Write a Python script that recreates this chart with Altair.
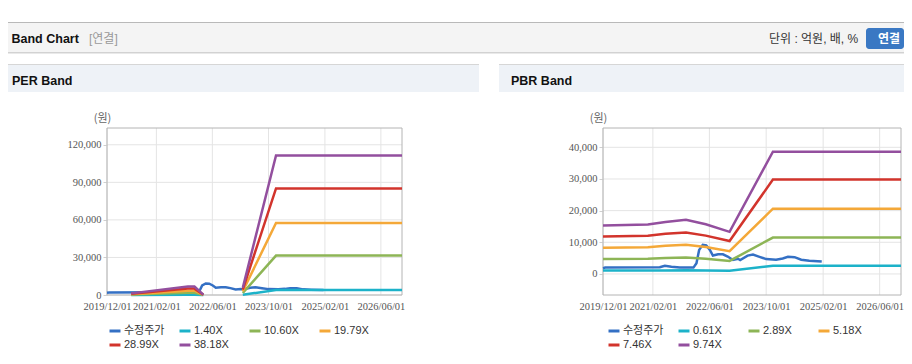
import altair as alt
import pandas as pd

# ---------------- data ----------------
X_START = "2019-12-01"
X_END = "2026-12-01"
x_tick_dates = ["2019-12-01", "2021-02-01", "2022-06-01", "2023-10-01", "2025-02-01", "2026-06-01"]

per_series = ["수정주가", "1.40X", "10.60X", "19.79X", "28.99X", "38.18X"]
pbr_series = ["수정주가", "0.61X", "2.89X", "5.18X", "7.46X", "9.74X"]
series_colors = ["#3470c4", "#1cb2c9", "#8db556", "#f4a838", "#d2342c", "#934f9e"]

per_y_ticks = [0, 30000, 60000, 90000, 120000]
pbr_y_ticks = [0, 10000, 20000, 30000, 40000]

price_dates = ["2019-12-01", "2019-12-20", "2021-04-01", "2021-05-15", "2021-07-10", "2021-09-20",
               "2022-01-15", "2022-02-10", "2022-03-05", "2022-04-05", "2022-05-05", "2022-06-05",
               "2022-07-01", "2022-08-15", "2022-09-25", "2022-11-05", "2022-12-20", "2023-02-01",
               "2023-02-20", "2023-04-25", "2023-06-10", "2023-08-05", "2023-10-01", "2023-12-25",
               "2024-02-20", "2024-04-05", "2024-06-01", "2024-07-28", "2024-10-05", "2025-01-20"]
price_values = [1800, 2000, 2100, 2600, 2300, 2000,
                2000, 3400, 7600, 9200, 9000, 7600,
                5800, 6200, 6200, 5500, 4400, 4800,
                4400, 5800, 6100, 5400, 4700, 4500,
                4900, 5400, 5300, 4500, 4200, 3900]

# PER bands: two separate segments
per_dates_a = ["2020-06-28", "2021-11-01", "2021-12-28", "2022-03-15"]
per_dates_b = ["2023-02-20", "2023-12-05", "2026-12-01"]
per_140_a = [50, 245, 245, 10]
per_1060_a = [360, 1860, 1860, 80]
per_1979_a = [680, 3470, 3470, 160]
per_2899_a = [1000, 5100, 5100, 230]
per_3818_a = [1300, 6700, 6700, 300]
per_140_b = [200, 4000, 4000]
per_1060_b = [1600, 31500, 31500]
per_1979_b = [3000, 57600, 57600]
per_2899_b = [4400, 85100, 85100]
per_3818_b = [5800, 111500, 111500]

# PBR bands
pbr_dates = ["2019-12-01", "2020-12-20", "2021-05-20", "2021-11-12", "2022-05-01",
             "2022-11-21", "2023-11-28", "2026-12-01"]
pbr_061 = [1050, 1050, 1100, 1150, 1050, 1000, 2600, 2600]
pbr_289 = [4750, 4800, 5050, 5200, 4800, 4100, 11500, 11500]
pbr_518 = [8300, 8400, 8900, 9200, 8500, 7200, 20600, 20600]
pbr_746 = [11800, 12100, 12700, 13100, 12100, 10400, 29800, 29800]
pbr_974 = [15300, 15600, 16400, 17100, 15700, 13300, 38600, 38600]


def rows(name, dates, values, seg):
    return [{"date": d, "value": v, "series": name, "seg": f"{name}-{seg}"}
            for d, v in zip(dates, values)]


per_rows = rows(per_series[0], price_dates, price_values, 0)
for name, a, b in zip(per_series[1:],
                      [per_140_a, per_1060_a, per_1979_a, per_2899_a, per_3818_a],
                      [per_140_b, per_1060_b, per_1979_b, per_2899_b, per_3818_b]):
    per_rows += rows(name, per_dates_a, a, 1)
    per_rows += rows(name, per_dates_b, b, 2)
per_df = pd.DataFrame(per_rows)

pbr_rows = rows(pbr_series[0], price_dates, price_values, 0)
for name, vals in zip(pbr_series[1:], [pbr_061, pbr_289, pbr_518, pbr_746, pbr_974]):
    pbr_rows += rows(name, pbr_dates, vals, 1)
pbr_df = pd.DataFrame(pbr_rows)

one = pd.DataFrame({"k": [0]})
xtick_df = pd.DataFrame({"date": x_tick_dates})


def ms(d):
    return int(pd.Timestamp(d, tz="UTC").value // 10**6)


NUM_FONT = "Liberation Sans Narrow"
KR_FONT = "Liberation Sans, Noto Sans CJK KR"

# whole page = one view; page coordinates minus the 8px body margin
M = 8
RIGHT = 904          # page x where the drawable area ends (896px wide svg)
W, H, PAD_B = RIGHT - M, 287, 57
PLOT_TOP, PLOT_BOT = 128 - M, 295 - M


def rect(x0, x1, y0, y1, color, **kw):
    return alt.Chart(one).mark_rect(color=color, **kw).encode(
        x=alt.value(x0 - M), x2=alt.value(x1 - M),
        y=alt.value(y0 - M), y2=alt.value(y1 - M))


def label(s, x, y, **kw):
    kw.setdefault("align", "left")
    kw.setdefault("baseline", "alphabetic")
    kw.setdefault("font", KR_FONT)
    return alt.Chart(one).mark_text(text=s, **kw).encode(
        x=alt.value(x - M), y=alt.value(y - M))


def panel(df, series, y_domain, y_ticks, px0, px1, legend_x):
    x0, x1 = px0 - M, px1 - M
    xscale = alt.Scale(type="utc", domain=[ms(X_START), ms(X_END)], nice=False, range=[x0, x1])
    yscale = alt.Scale(domain=y_domain, nice=False, zero=False, range=[PLOT_BOT, PLOT_TOP])
    ygrid = alt.Chart(pd.DataFrame({"value": y_ticks})).mark_rule(color="#e4e4e4", strokeWidth=1).encode(
        y=alt.Y("value:Q", scale=yscale, axis=None), x=alt.value(x0), x2=alt.value(x1))
    xgrid = alt.Chart(xtick_df).mark_rule(color="#e4e4e4", strokeWidth=1).encode(
        x=alt.X("date:T", scale=xscale, axis=None), y=alt.value(PLOT_TOP), y2=alt.value(PLOT_BOT))
    border = alt.Chart(one).mark_rect(fillOpacity=0, stroke="#b4b4b4", strokeWidth=1).encode(
        x=alt.value(x0), x2=alt.value(x1), y=alt.value(PLOT_TOP), y2=alt.value(PLOT_BOT))
    lines = alt.Chart(df).mark_line(strokeWidth=2.5).encode(
        x=alt.X("date:T", title=None, scale=xscale,
                axis=alt.Axis(orient="bottom", values=[ms(d) for d in x_tick_dates],
                              labelExpr="utcFormat(datum.value, '%Y/%m/%d')",
                              grid=False, ticks=False, domain=False,
                              labelFont=NUM_FONT, labelFontSize=10.5, labelColor="#555555",
                              labelPadding=6, labelFlush=False, labelOverlap=False)),
        y=alt.Y("value:Q", scale=yscale,
                axis=alt.Axis(orient="left", offset=-x0, values=y_ticks, format=",.0f",
                              title="(원)", titleAngle=0,
                              titleX=-5, titleY=PLOT_TOP - 10, titleAlign="center", titleBaseline="middle",
                              titleFont="Noto Sans CJK KR", titleFontSize=11, titleFontWeight="normal",
                              titleColor="#666666",
                              grid=False, domain=False,
                              tickSize=4, tickColor="#cfcfcf",
                              labelFont=NUM_FONT, labelFontSize=10.5, labelColor="#555555",
                              labelPadding=2)),
        color=alt.Color("series:N",
                        scale=alt.Scale(domain=series, range=series_colors),
                        sort=series,
                        legend=alt.Legend(orient="none", legendX=legend_x - M, legendY=324 - M,
                                          direction="horizontal", columns=4, title=None,
                                          symbolType="stroke", symbolSize=121, symbolStrokeWidth=3,
                                          labelFont=KR_FONT, labelFontSize=11, labelColor="#333333",
                                          labelOffset=2, columnPadding=8, rowPadding=1,
                                          gridAlign="all", labelLimit=200)),
        detail="seg:N",
    )
    return [ygrid, xgrid, border, lines]


decos = [
    rect(8, RIGHT, 22, 23, "#b9b9b9"),
    rect(8, RIGHT, 23, 52, "#f4f4f4"),
    rect(8, RIGHT, 52, 53, "#d2d2d2"),
    rect(8, RIGHT, 53, 54, "#e9e9e9"),
    rect(8, 479, 64, 65, "#d6d6d6"),
    rect(8, 479, 65, 92, "#eef2f7"),
    rect(499, RIGHT, 64, 65, "#d6d6d6"),
    rect(499, RIGHT, 65, 92, "#eef2f7"),
    label("Band Chart", 11.5, 43, fontSize=12.5, fontWeight="bold", color="#111111"),
    label("[연결]", 89, 43, fontSize=12, color="#999999"),
    label("PER Band", 12, 85, fontSize=12.5, fontWeight="bold", color="#111111"),
    label("PBR Band", 511, 85, fontSize=12.5, fontWeight="bold", color="#111111"),
    label("단위 : 억원, 배, %", 769, 43, fontSize=12, color="#333333"),
    rect(866, RIGHT, 28, 49, "#3a78c3", cornerRadius=3),
    label("연결", 889, 43, fontSize=12, fontWeight="bold", color="white", align="center"),
]

left_layers = panel(per_df, per_series, [0, 133400], per_y_ticks, 107, 402, 108)
right_layers = panel(pbr_df, pbr_series, [-6650, 46100], pbr_y_ticks, 603, 901, 607)

chart = (
    alt.layer(*decos, *left_layers, *right_layers)
    .resolve_scale(x="independent", y="independent", color="independent")
    .resolve_legend(color="independent")
    .properties(width=W, height=H,
                autosize=alt.AutoSizeParams(type="none"),
                padding={"left": 0, "top": 0, "right": 0, "bottom": PAD_B},
                background="white")
    .configure_view(stroke=None)
)

chart.save("out.html", embed_options={"renderer": "svg", "actions": False})
